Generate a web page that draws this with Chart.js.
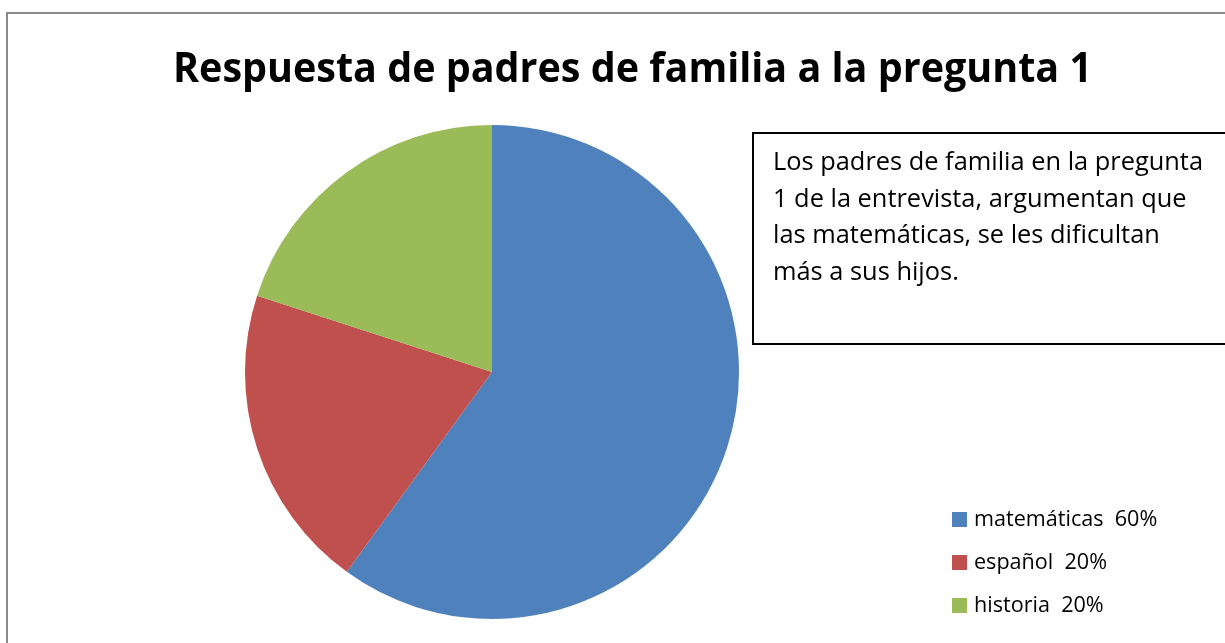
<!DOCTYPE html>
<html>
<head>
<meta charset="utf-8">
<script src="https://cdn.jsdelivr.net/npm/chart.js@4"></script>
<style>
  html, body { margin: 0; padding: 0; background: #ffffff; }
  #wrap { position: relative; width: 1225px; height: 643px; }
</style>
</head>
<body>
<div id="wrap"><canvas id="c" width="1225" height="643"></canvas></div>
<script>
const titleText = 'Respuesta de padres de familia a la pregunta 1';
const categories = ['matemáticas  60%', 'español  20%', 'historia  20%'];
const values = [60, 20, 20];
const colors = ['#4F81BD', '#C0504D', '#9BBB59'];
const noteLines = [
  'Los padres de familia en la pregunta',
  '1 de la entrevista, argumentan que',
  'las matemáticas, se les dificultan',
  'más a sus hijos.'
];

const FAMILY = '"Open Sans", Lato, sans-serif';

function scaleFor(ctx, font, text, target) {
  ctx.font = font;
  return target / ctx.measureText(text).width;
}
function drawScaled(ctx, font, text, x, y, sx, align) {
  ctx.save();
  ctx.font = font;
  ctx.textBaseline = 'alphabetic';
  ctx.textAlign = 'left';
  const w = ctx.measureText(text).width * sx;
  let left = x;
  if (align === 'center') left = x - w / 2;
  ctx.translate(left, y);
  ctx.scale(sx, 1);
  ctx.fillText(text, 0, 0);
  ctx.restore();
}

const decor = {
  id: 'decor',
  afterDraw(chart) {
    const ctx = chart.ctx;
    ctx.save();
    // outer frame
    ctx.strokeStyle = '#8a8a8a';
    ctx.lineWidth = 2;
    ctx.beginPath();
    ctx.moveTo(7, 650);
    ctx.lineTo(7, 13);
    ctx.lineTo(1230, 13);
    ctx.stroke();

    // title
    ctx.fillStyle = '#000000';
    const tFont = 'bold 42px ' + FAMILY;
    const tsx = scaleFor(ctx, tFont, titleText, 919);
    drawScaled(ctx, tFont, titleText, 632.5, 82, tsx, 'center');

    // note box
    ctx.strokeStyle = '#000000';
    ctx.lineWidth = 2;
    ctx.beginPath();
    ctx.moveTo(1230, 133);
    ctx.lineTo(753, 133);
    ctx.lineTo(753, 344);
    ctx.lineTo(1230, 344);
    ctx.stroke();
    const nFont = '25px ' + FAMILY;
    const nsx = scaleFor(ctx, nFont, noteLines[0], 430);
    const nBase = [170, 206.5, 243, 280];
    noteLines.forEach((ln, i) => drawScaled(ctx, nFont, ln, 773, nBase[i], nsx, 'left'));

    // legend
    const lFont = '21px ' + FAMILY;
    ctx.font = lFont;
    const measured = chart.data.labels.reduce((s, l) => s + ctx.measureText(l).width, 0);
    const lsx = (167 + 141 + 138) / measured;
    const meta = chart.getDatasetMeta(0);
    const sqTop = [512, 555, 598];
    const base = [525.5, 568.5, 611.5];
    chart.data.labels.forEach((lab, i) => {
      ctx.fillStyle = meta.data[i].options.backgroundColor;
      ctx.fillRect(952, sqTop[i], 15, 15);
      ctx.fillStyle = '#000000';
      drawScaled(ctx, lFont, lab, 974, base[i], lsx, 'left');
    });
    ctx.restore();
  }
};

new Chart(document.getElementById('c'), {
  type: 'pie',
  data: {
    labels: categories,
    datasets: [{
      data: values,
      backgroundColor: colors,
      borderWidth: 0
    }]
  },
  options: {
    responsive: false,
    animation: false,
    layout: { padding: { left: 245, right: 486, top: 125, bottom: 24 } },
    plugins: {
      legend: { display: false },
      title: { display: false },
      tooltip: { enabled: false }
    }
  },
  plugins: [decor]
});
</script>
</body>
</html>
